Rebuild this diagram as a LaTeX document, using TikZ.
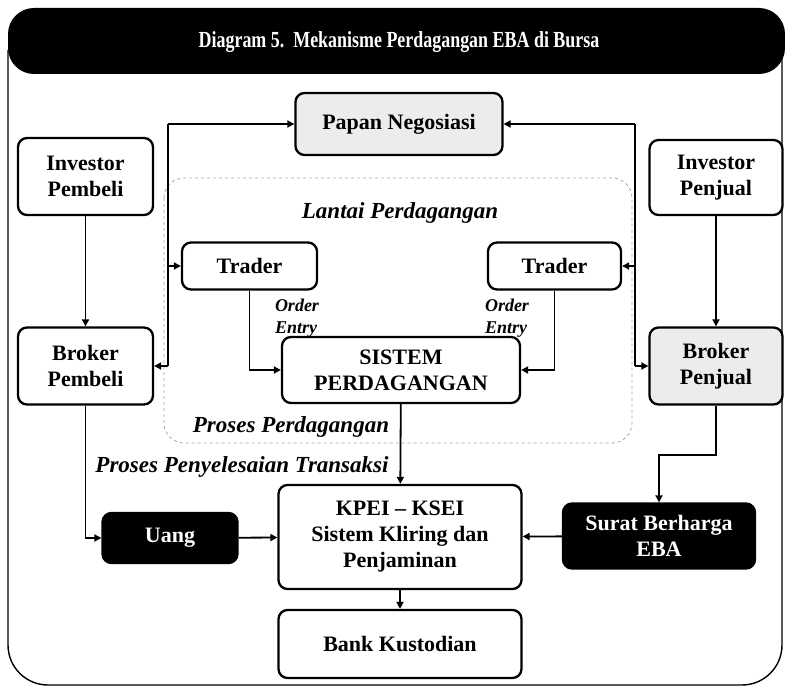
\documentclass[tikz,border=0pt]{standalone}
\usepackage{fontspec}
\setmainfont{Liberation Serif}
\newfontfamily\titlefont[FakeStretch=0.78]{Liberation Serif}
\usepackage{tikz}
\usetikzlibrary{positioning, arrows.meta, calc}

\begin{document}
\begin{tikzpicture}[x=1pt, y=1pt,
        box/.style={draw, rectangle, rounded corners=9pt, line width=2.3pt, align=center, fill=white, inner sep=2pt, font=\fontsize{22}{26}\selectfont\bfseries},
        darkbox/.style={box, fill=black, text=white},
        grainbox/.style={box, fill=gray!15},
        arrow/.style={-{Triangle[length=7pt, width=7pt]}, line width=1.8pt},
        bus/.style={line width=1.8pt},
        tlabel/.style={font=\fontsize{23}{26}\selectfont\bfseries\itshape, inner sep=1pt},
        olabel/.style={font=\fontsize{18}{22}\selectfont\bfseries\itshape, inner sep=1pt, align=left}
    ]
    \useasboundingbox (0,0) rectangle (785,-687);

    % --- Frame and title bar ---
    \draw[line width=1.4pt, rounded corners=40pt] (8,-50) -- (8,-685) -- (782,-685) -- (782,-50);
    \fill[rounded corners=26pt] (8,-8) rectangle (785,-74);
    \node[text=white, font=\titlefont\fontsize{23}{25}\selectfont\bfseries] (title) at (399,-42) {Diagram 5.\ \ Mekanisme Perdagangan EBA di Bursa};

    % --- Trading floor boundary ---
    \draw[dashed, gray!70, line width=0.8pt, rounded corners=20pt] (164,-178) rectangle (632,-443);
    \node[tlabel] (lantai) at (400,-213) {Lantai Perdagangan};
    \node[tlabel] (proses) at (291,-427) {Proses Perdagangan};

    % --- Row 1: investors + negotiation board ---
    \node[box, minimum width=135pt, minimum height=77pt] (ipembeli) at (85.5,-176.5) {Investor\\Pembeli};
    \node[box, minimum width=133pt, minimum height=75pt] (ipenjual) at (716,-177.5) {Investor\\Penjual};
    \node[grainbox, minimum width=207pt, minimum height=62pt] (papan) at (399,-124) {Papan Negosiasi};

    % --- Row 2: traders ---
    \node[box, minimum width=135pt, minimum height=47pt] (traderL) at (249.5,-266) {Trader};
    \node[box, minimum width=133pt, minimum height=47pt] (traderR) at (554.5,-266) {Trader};
    \node[olabel] (orderL) at (297,-318) {Order\\Entry};
    \node[olabel] (orderR) at (507,-318) {Order\\Entry};

    % --- Row 3: brokers + trading system ---
    \node[box, minimum width=135pt, minimum height=77pt] (bpembeli) at (85.5,-366) {Broker\\Pembeli};
    \node[grainbox, minimum width=133pt, minimum height=77pt] (bpenjual) at (716,-366) {Broker\\Penjual};
    \node[box, minimum width=238pt, minimum height=66pt] (sistem) at (401,-370) {SISTEM\\PERDAGANGAN};

    % --- Row 4: settlement ---
    \node[tlabel] (selesai) at (242,-467) {Proses Penyelesaian Transaksi};
    \node[box, minimum width=243pt, minimum height=104pt] (kpei) at (400,-537) {KPEI -- KSEI\\Sistem Kliring dan\\Penjaminan};
    \node[darkbox, minimum width=135pt, minimum height=50pt] (uang) at (170,-538) {Uang};
    \node[darkbox, minimum width=192pt, minimum height=65pt] (surat) at (659,-536) {Surat Berharga\\EBA};
    \node[box, minimum width=243pt, minimum height=68pt] (bank) at (400,-644) {Bank Kustodian};

    % --- Buses to the negotiation board ---
    \coordinate (lbusT) at (168,-124);
    \coordinate (lbusB) at (168,-366);
    \coordinate (rbusT) at (635,-124);
    \coordinate (rbusB) at (635,-366);
    \draw[bus] (lbusT) -- (lbusB);
    \draw[bus] (rbusT) -- (rbusB);
    \draw[arrow] (lbusT) -- (papan);
    \draw[arrow] (lbusT |- traderL) -- (traderL);
    \draw[arrow] (lbusB) -- (bpembeli);
    \draw[arrow] (rbusT) -- (papan);
    \draw[arrow] (rbusT |- traderR) -- (traderR);
    \draw[arrow] (rbusB) -- (bpenjual);

    % --- Order flow ---
    \draw[arrow] (ipembeli) -- (bpembeli);
    \draw[arrow] (ipenjual) -- (bpenjual);
    \draw[arrow] (traderL) |- (sistem);
    \draw[arrow] (traderR) |- (sistem);
    \draw[arrow] (sistem) -- (kpei);

    % --- Settlement flow ---
    \coordinate (sbend) at (659,-455);
    \draw[arrow] (bpembeli) |- (uang);
    \draw[arrow] (uang) -- (kpei);
    \draw[arrow] (bpenjual) |- (sbend) -- (surat);
    \draw[arrow] (surat) -- (kpei);
    \draw[arrow] (kpei) -- (bank);

\end{tikzpicture}
\end{document}
